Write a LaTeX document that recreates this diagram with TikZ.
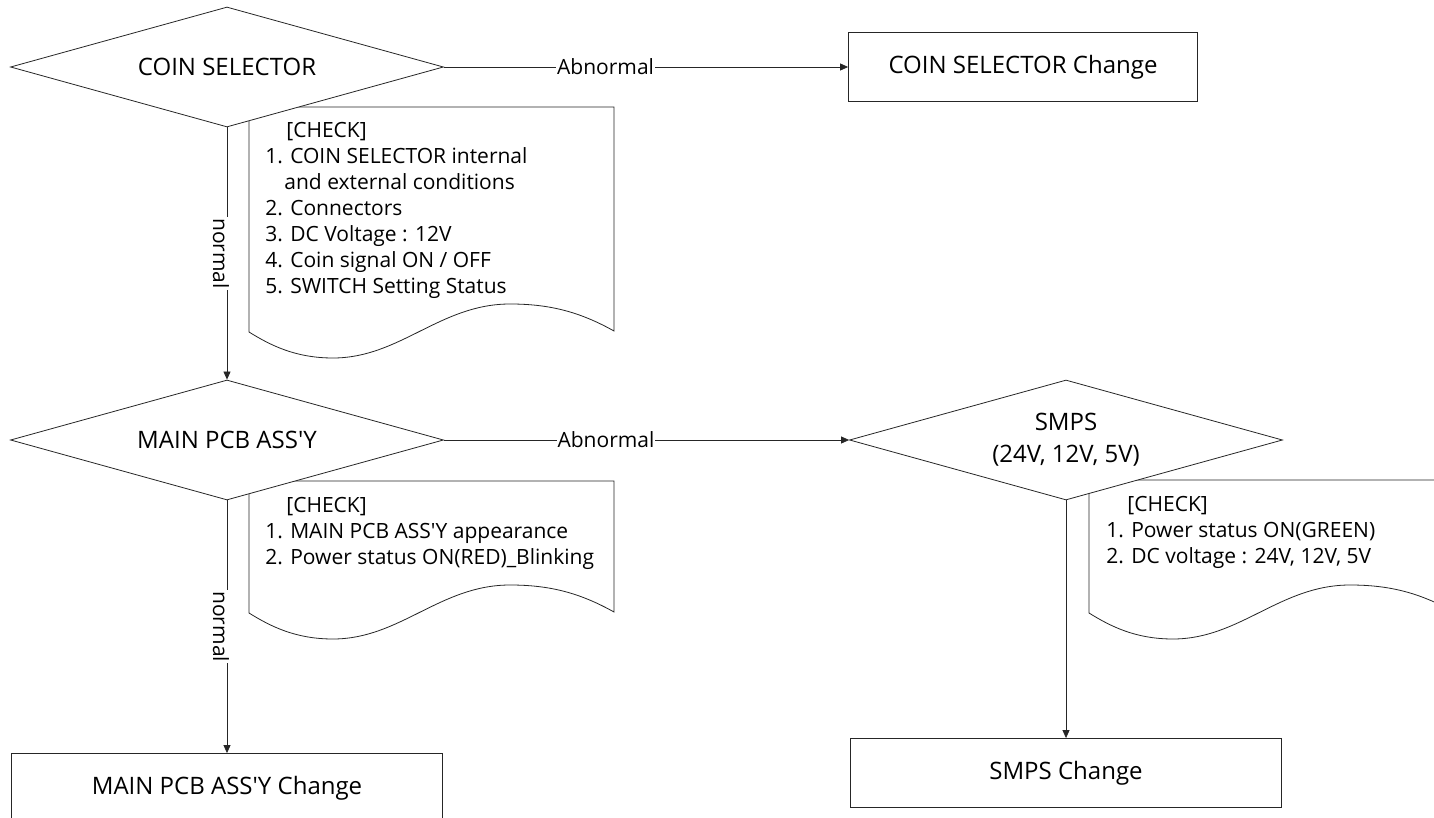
\documentclass[tikz,border=0pt]{standalone}
\usepackage{fontspec}
\setmainfont{Open Sans}
\usetikzlibrary{shapes.geometric,arrows.meta}

\begin{document}
\begin{tikzpicture}[x=1pt,y=-1pt,line width=0.8pt,draw=black!85,
    font=\fontsize{21}{26}\selectfont,
    >={Triangle[length=8pt,width=7pt]}]
  \tikzstyle{box}=[draw,rectangle,fill=white,minimum width=431pt,minimum height=69pt,inner sep=0pt,font=\fontsize{24}{32}\selectfont]
  \tikzstyle{decision}=[draw,diamond,aspect=4,fill=white,minimum width=433pt,minimum height=120pt,inner sep=0pt,align=center,font=\fontsize{24}{32}\selectfont]
  \tikzstyle{doc}=[draw,fill=white]
  \tikzstyle{check}=[anchor=north west,inner sep=0pt,align=left]
  \tikzstyle{lbl}=[fill=white,inner sep=1pt]

  \useasboundingbox (0,0) rectangle (1434,818);
  \clip (0,0) rectangle (1434,818);

  % check sheets
  \foreach \x/\y/\h in {249/107/225,249/481/132,1089/480/133}
    \draw[doc,shift={(\x,\y)}] (0,0) -- (365,0) -- (365,\h-1)
      .. controls (331,\h-20) and (301,\h-28) .. (261,\h-28)
      .. controls (191,\h-28) and (151,\h+26) .. (84,\h+26)
      .. controls (46,\h+26) and (21,\h+13) .. (0,\h) -- cycle;

  \node[check] (chk1) at (265,122) {\hspace*{21pt}[CHECK]\\1. COIN SELECTOR internal\\\hspace*{19pt}and external conditions\\2. Connectors\\3. DC Voltage : 12V\\4. Coin signal ON / OFF\\5. SWITCH Setting Status};
  \node[check] (chk2) at (265,497) {\hspace*{21pt}[CHECK]\\1. MAIN PCB ASS\textquotesingle Y appearance\\2. Power status ON(RED)\_Blinking};
  \node[check] (chk3) at (1106,496) {\hspace*{21pt}[CHECK]\\1. Power status ON(GREEN)\\2. DC voltage : 24V, 12V, 5V};

  % decisions
  \node[decision] (coin) at (227,67) {COIN SELECTOR};
  \node[decision] (pcb) at (227,440) {MAIN PCB ASS\textquotesingle Y};
  \node[decision] (smps) at (1066,440) {SMPS\\(24V, 12V, 5V)};

  % replacements
  \node[box,minimum width=349pt] (coinchg) at (1023,67) {COIN SELECTOR Change};
  \node[box] (pcbchg) at (227,788) {MAIN PCB ASS\textquotesingle Y Change};
  \node[box] (smpschg) at (1066,773) {SMPS Change};

  \draw[->] (coin) -- node[lbl,pos=0.4] {Abnormal} (coinchg);
  \draw[->] (coin) -- node[lbl,midway,xshift=-6pt,rotate=-90] {normal} (pcb);
  \draw[->] (pcb) -- node[lbl,pos=0.4] {Abnormal} (smps);
  \draw[->] (pcb) -- node[lbl,midway,xshift=-6pt,rotate=-90] {normal} (pcbchg);
  \draw[->] (smps) -- (smpschg);
\end{tikzpicture}
\end{document}
